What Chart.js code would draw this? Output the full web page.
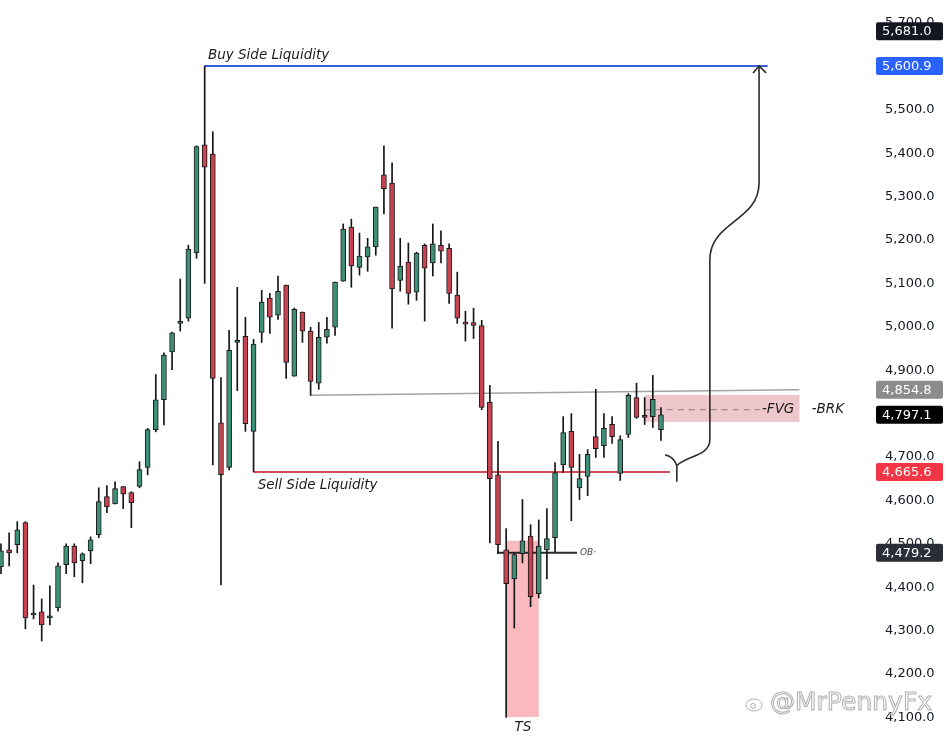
<!DOCTYPE html>
<html>
<head>
<meta charset="utf-8">
<script src="https://cdn.jsdelivr.net/npm/chart.js@4.4.1/dist/chart.umd.min.js"></script>
<style>
  html, body { margin: 0; padding: 0; background: #ffffff; }
  #wrap { width: 948px; height: 743px; position: relative; }
</style>
</head>
<body>
<div id="wrap"><canvas id="priceChart"></canvas></div>
<script>
// OHLC, one entry per candle (left to right)
const opens  = [4447, 4486, 4498, 4549, 4336, 4343, 4329, 4352, 4452, 4495, 4461, 4484, 4521, 4609, 4592, 4632, 4618, 4632, 4676, 4763,
                4832, 4942, 5008, 5020, 5170, 5419, 5398, 4779, 4676, 4964, 4978, 4759, 4987, 5066, 5027, 5096, 4886, 5034, 4990, 4870,
                4976, 4999, 5105, 5230, 5137, 5161, 5184, 5350, 5331, 5107, 5149, 5080, 5188, 5147, 5188, 5181, 5073, 5010, 5010, 5003,
                4826, 4659, 4486, 4419, 4477, 4518, 4385, 4486, 4514, 4682, 4759, 4629, 4655, 4747, 4726, 4775, 4662, 4752, 4837, 4796,
                4793, 4763];
const highs  = [4500, 4525, 4551, 4551, 4405, 4373, 4403, 4456, 4500, 4500, 4479, 4516, 4629, 4634, 4643, 4632, 4620, 4689, 4766, 4890,
                4940, 4988, 5110, 5188, 5417, 5600.9, 5449, 4883, 4992, 5091, 5022, 4971, 5084, 5077, 5117, 5096, 5043, 5034, 4999, 5010,
                5022, 5103, 5237, 5248, 5216, 5204, 5276, 5417, 5378, 5204, 5193, 5172, 5191, 5237, 5221, 5191, 5126, 5036, 5043, 5015,
                4865, 4736, 4535, 4479, 4602, 4544, 4555, 4581, 4687, 4793, 4800, 4706, 4717, 4856, 4800, 4793, 4749, 4846, 4870, 4837,
                4888, 4814];
const lows   = [4431, 4449, 4479, 4304, 4327, 4276, 4313, 4345, 4431, 4424, 4410, 4454, 4514, 4572, 4592, 4581, 4537, 4629, 4659, 4758,
                4774, 4901, 4990, 5013, 5158, 5100, 4682, 4405, 4670, 4853, 4759, 4665.6, 4964, 4985, 5017, 4881, 4886, 4964, 4842, 4856,
                4962, 4980, 5105, 5091, 5119, 5128, 5165, 5260, 4997, 5082, 5052, 5061, 5013, 5117, 5147, 5054, 5008, 4967, 4973, 4809,
                4502, 4477, 4100, 4306, 4456, 4355, 4375, 4419, 4482, 4664, 4553, 4602, 4611, 4699, 4699, 4731, 4646, 4745, 4789, 4775,
                4768, 4738];
const closes = [4484, 4479, 4532, 4329, 4338, 4313, 4334, 4449, 4495, 4456, 4477, 4509, 4597, 4585, 4627, 4615, 4595, 4671, 4763, 4832,
                4935, 4986, 5010, 5179, 5415, 5368, 4881, 4659, 4946, 4966, 4777, 4960, 5057, 5022, 5082, 4918, 5040, 4990, 4874, 4976,
                4994, 5103, 5225, 5140, 5163, 5184, 5276, 5318, 5087, 5140, 5077, 5170, 5135, 5191, 5174, 5077, 5020, 5006, 5003, 4814,
                4650, 4498, 4408, 4475, 4507, 4378, 4495, 4512, 4664, 4756, 4676, 4650, 4706, 4719, 4766, 4747, 4740, 4842, 4791, 4791,
                4833, 4797.1];

// price axis tick labels
const tickValues = [4100, 4200, 4300, 4400, 4500, 4600, 4700, 4800, 4900, 5000, 5100, 5200, 5300, 5400, 5500, 5600, 5700];

// marked levels
const buySideLevel = 5600.9;
const sellSideLevel = 4665.6;
const obLevel = 4479.2;
const trendStart = 4842;
const trendEnd = 4854.8;
const fvgTop = 4843;
const fvgBottom = 4781;
const fvgMid = 4809;
const tsTop = 4507;
const tsBottom = 4101;

// price tags on the right scale
const tagValues = [5681.0, 5600.9, 4854.8, 4797.1, 4665.6, 4479.2];
const tagColors = ['#131722', '#2962ff', '#8c8c8c', '#000000', '#f23645', '#2a2e39'];

const GREEN = '#3d8f77';
const RED = '#c9424f';
const AXIS_FONT = '13px "DejaVu Sans"';
const NOTE_FONT = 'italic 13.5px "DejaVu Sans"';

const fmt = v => v.toLocaleString('en-US', { minimumFractionDigits: 1, maximumFractionDigits: 1 });

const wickData = lows.map((l, i) => ({ x: i, y: [l, highs[i]] }));
const bodyData = opens.map((o, i) => ({ x: i, y: [Math.min(o, closes[i]), Math.max(o, closes[i])] }));
const bodyColors = opens.map((o, i) => closes[i] >= o ? GREEN : RED);

// drawings: boxes and lines behind candles, text/arrow on top, price tags last
const overlay = {
    id: 'overlay',
    beforeDatasetsDraw(chart) {
        const { ctx } = chart;
        const X = v => chart.scales.x.getPixelForValue(v);
        const Y = v => chart.scales.y.getPixelForValue(v);
        ctx.save();

        // TS box
        ctx.fillStyle = 'rgba(242, 54, 69, 0.35)';
        ctx.fillRect(X(62.1), Y(tsTop), X(66.0) - X(62.1), Y(tsBottom) - Y(tsTop));

        // FVG box
        ctx.fillStyle = 'rgba(200, 80, 92, 0.32)';
        ctx.fillRect(X(79), Y(fvgTop), X(98) - X(79), Y(fvgBottom) - Y(fvgTop));

        // FVG dashed midline
        ctx.strokeStyle = '#a08c8e';
        ctx.lineWidth = 1.2;
        ctx.setLineDash([6, 5]);
        ctx.beginPath();
        ctx.moveTo(X(79), Y(fvgMid));
        ctx.lineTo(X(93.1), Y(fvgMid));
        ctx.stroke();
        ctx.setLineDash([]);

        // gray trend line
        ctx.strokeStyle = '#a3a3a3';
        ctx.lineWidth = 1.5;
        ctx.beginPath();
        ctx.moveTo(X(38), Y(trendStart));
        ctx.lineTo(X(98), Y(trendEnd));
        ctx.stroke();

        // sell side line
        ctx.strokeStyle = '#dc4b5b';
        ctx.lineWidth = 2;
        ctx.beginPath();
        ctx.moveTo(X(31), Y(sellSideLevel));
        ctx.lineTo(X(82.1), Y(sellSideLevel));
        ctx.stroke();

        // buy side line
        ctx.strokeStyle = '#3560d8';
        ctx.lineWidth = 2;
        ctx.beginPath();
        ctx.moveTo(X(25), Y(buySideLevel));
        ctx.lineTo(X(94.1), Y(buySideLevel));
        ctx.stroke();

        // OB line
        ctx.strokeStyle = '#2a2a2a';
        ctx.lineWidth = 2;
        ctx.beginPath();
        ctx.moveTo(X(60.9), Y(obLevel));
        ctx.lineTo(X(70.7), Y(obLevel));
        ctx.stroke();

        ctx.restore();
    },
    afterDatasetsDraw(chart) {
        const { ctx } = chart;
        const X = v => chart.scales.x.getPixelForValue(v);
        const Y = v => chart.scales.y.getPixelForValue(v);
        ctx.save();

        // texts
        ctx.fillStyle = '#1c1c1c';
        ctx.font = NOTE_FONT;
        ctx.textBaseline = 'middle';
        ctx.textAlign = 'left';
        ctx.fillText('Buy Side Liquidity', X(25.4), Y(5624));
        ctx.fillText('Sell Side Liquidity', X(31.5), Y(4634));
        ctx.fillText('-FVG', X(93.4), Y(fvgMid));
        ctx.fillText('-BRK', X(99.5), Y(fvgMid));
        ctx.textAlign = 'center';
        ctx.fillText('TS', X(64.05), Y(4076));
        ctx.textAlign = 'left';
        ctx.font = 'italic 9px "DejaVu Sans"';
        ctx.fillStyle = '#444';
        ctx.fillText('OB·', X(71.05), Y(obLevel));

        // arrow up to buy side liquidity
        ctx.strokeStyle = '#2b2b2b';
        ctx.lineWidth = 1.6;
        ctx.beginPath();
        ctx.moveTo(X(93.04), Y(buySideLevel));
        ctx.lineTo(X(93.04), Y(5332));
        ctx.bezierCurveTo(X(93.04), Y(5242), X(87.0), Y(5244), X(87.0), Y(5154));
        ctx.lineTo(X(87.0), Y(4740));
        ctx.bezierCurveTo(X(87.0), Y(4702), X(84.0), Y(4702), X(82.95), Y(4680));
        ctx.moveTo(X(81.5), Y(4705));
        ctx.quadraticCurveTo(X(82.6), Y(4700), X(82.95), Y(4680));
        ctx.lineTo(X(82.95), Y(4643));
        ctx.stroke();
        // arrow head
        ctx.beginPath();
        ctx.moveTo(X(92.3), Y(5585));
        ctx.lineTo(X(93.04), Y(buySideLevel));
        ctx.lineTo(X(93.9), Y(5585));
        ctx.stroke();

        ctx.restore();
    },
    afterDraw(chart) {
        const { ctx } = chart;
        const y = chart.scales.y;
        ctx.save();
        ctx.font = AXIS_FONT;
        ctx.textBaseline = 'middle';
        ctx.textAlign = 'left';
        tagValues.forEach((v, i) => {
            const py = y.getPixelForValue(v);
            ctx.fillStyle = tagColors[i];
            ctx.beginPath();
            ctx.roundRect(y.left + 4, py - 9, 67, 18, 2);
            ctx.fill();
            ctx.fillStyle = '#ffffff';
            ctx.fillText(fmt(v), y.left + 10, py + 0.5);
        });

        // watermark
        ctx.font = '25px "DejaVu Sans"';
        ctx.strokeStyle = '#b0b0b0';
        ctx.lineWidth = 1;
        ctx.strokeText('@MrPennyFx', 770, 703);
        ctx.beginPath();
        ctx.ellipse(754, 705, 8, 6, 0, 0, Math.PI * 2);
        ctx.stroke();
        ctx.beginPath();
        ctx.arc(753, 706, 2.5, 0, Math.PI * 2);
        ctx.stroke();
        ctx.restore();
    }
};

const ctx = document.getElementById('priceChart').getContext('2d');

const chart = new Chart(ctx, {
    type: 'bar',
    data: {
        datasets: [
            {
                label: 'wick',
                data: wickData,
                backgroundColor: '#151515',
                barThickness: 1,
                grouped: false,
                order: 2
            },
            {
                label: 'body',
                data: bodyData,
                backgroundColor: bodyColors,
                borderColor: '#1a1a1a',
                borderWidth: 1,
                borderSkipped: false,
                barThickness: 5,
                minBarLength: 2,
                grouped: false,
                order: 1
            }
        ]
    },
    options: {
        responsive: true,
        maintainAspectRatio: false,
        animation: false,
        layout: { padding: 0 },
        plugins: {
            legend: { display: false },
            tooltip: { enabled: false }
        },
        scales: {
            x: {
                type: 'linear',
                min: -0.12,
                max: 106.9,
                offset: false,
                display: false
            },
            y: {
                position: 'right',
                min: 4041,
                max: 5753,
                grid: { display: false, drawTicks: false },
                border: { display: false },
                afterBuildTicks: scale => {
                    scale.ticks = tickValues.map(v => ({ value: v }));
                },
                afterFit: scale => {
                    // full-height plot: no label padding above/below
                    scale.width = 76;
                    scale.paddingTop = 0;
                    scale.paddingBottom = 0;
                },
                ticks: {
                    padding: 13,
                    color: '#131722',
                    font: { family: 'DejaVu Sans', size: 13 },
                    callback: v => fmt(v)
                }
            }
        }
    },
    plugins: [overlay]
});
</script>
</body>
</html>
